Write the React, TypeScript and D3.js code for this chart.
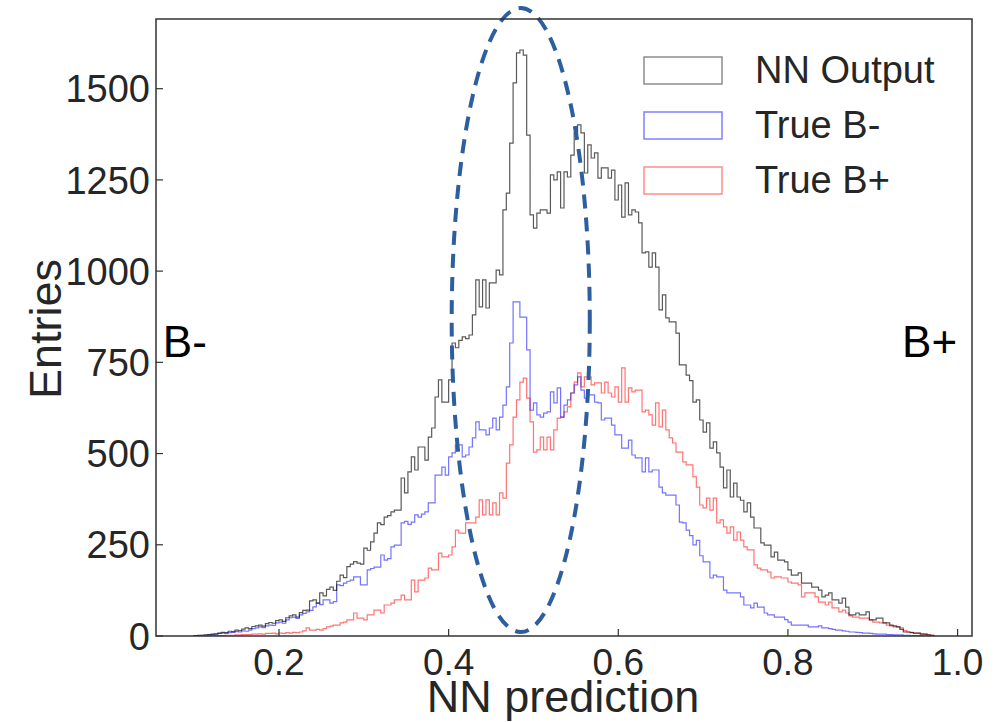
import React from "react";
import * as d3 from "d3";

// ---- data ----
const BIN_START = 0.1;
const BIN_WIDTH = 0.004;

const nnOutput = [
  1, 2, 2, 3, 4, 5, 6, 8, 10, 9,
  13, 12, 16, 15, 19, 22, 20, 26, 28, 30,
  27, 34, 37, 35, 42, 44, 40, 50, 55, 58,
  52, 64, 70, 71, 96, 99, 90, 118, 110, 128,
  134, 125, 150, 167, 160, 190, 197, 204, 200, 197,
  241, 235, 258, 282, 310, 305, 326, 330, 340, 345,
  345, 433, 392, 450, 491, 455, 518, 518, 482, 545,
  570, 655, 702, 641, 641, 702, 803, 790, 810, 820,
  815, 825, 880, 976, 902, 976, 899, 968, 968, 1003,
  990, 1168, 1214, 1351, 1516, 1598, 1606, 1592, 1373, 1154,
  1118, 1159, 1168, 1168, 1159, 1264, 1250, 1272, 1173, 1272,
  1258, 1318, 1379, 1401, 1379, 1269, 1346, 1310, 1324, 1255,
  1283, 1283, 1255, 1277, 1195, 1236, 1148, 1242, 1154, 1168,
  1162, 1132, 1050, 1053, 1011, 1050, 1011, 894, 935, 872,
  861, 861, 830, 743, 743, 715, 700, 641, 647, 592,
  559, 584, 515, 532, 502, 463, 406, 455, 381, 419,
  381, 372, 340, 365, 326, 296, 296, 255, 249, 249,
  217, 230, 208, 208, 203, 181, 167, 167, 173, 145,
  145, 145, 134, 134, 126, 107, 112, 118, 99, 99,
  90, 104, 79, 58, 58, 63, 58, 58, 66, 44,
  44, 49, 49, 36, 36, 30, 28, 25, 18, 11,
  11, 9, 8, 8, 5, 5, 3, 2,
];

const trueBminus = [
  1, 1, 2, 2, 3, 4, 5, 7, 8, 7,
  9, 10, 12, 11, 14, 13, 16, 20, 22, 25,
  23, 28, 30, 29, 36, 38, 35, 44, 50, 52,
  48, 58, 62, 66, 70, 80, 90, 86, 99, 99,
  90, 94, 140, 138, 145, 150, 153, 162, 162, 140,
  140, 181, 185, 189, 189, 222, 208, 212, 244, 249,
  249, 310, 314, 306, 312, 332, 326, 334, 340, 365,
  365, 441, 441, 463, 441, 491, 502, 524, 524, 491,
  496, 518, 543, 587, 565, 565, 551, 570, 597, 565,
  600, 633, 683, 803, 916, 916, 874, 874, 784, 619,
  639, 606, 600, 611, 614, 669, 639, 680, 600, 633,
  647, 666, 688, 710, 674, 652, 661, 661, 641, 639,
  592, 597, 597, 578, 551, 551, 515, 515, 537, 496,
  488, 488, 450, 488, 450, 455, 455, 408, 392, 386,
  386, 386, 359, 312, 310, 290, 275, 250, 262, 220,
  203, 203, 159, 167, 162, 162, 126, 118, 118, 118,
  118, 107, 85, 85, 77, 90, 79, 79, 63, 58,
  58, 52, 52, 52, 45, 38, 30, 30, 30, 30,
  30, 25, 25, 25, 28, 22, 22, 20, 18, 16,
  16, 14, 13, 11, 11, 10, 9, 8, 8, 7,
  6, 5, 5, 5, 4, 4, 3, 3, 3, 2,
  2, 1, 1, 1, 1, 0, 0, 0,
];

const trueBplus = [
  0, 0, 0, 0, 0, 0, 1, 1, 1, 2,
  2, 2, 3, 3, 4, 4, 4, 5, 5, 6,
  5, 7, 7, 8, 6, 8, 7, 9, 8, 10,
  9, 11, 14, 22, 16, 16, 18, 16, 20, 25,
  27, 30, 30, 36, 38, 44, 44, 63, 49, 49,
  44, 58, 58, 71, 71, 63, 85, 85, 90, 99,
  99, 112, 99, 99, 153, 121, 153, 153, 159, 186,
  181, 181, 227, 217, 217, 222, 244, 290, 282, 282,
  310, 310, 310, 326, 373, 332, 373, 332, 365, 332,
  392, 378, 474, 524, 600, 647, 696, 707, 652, 587,
  504, 510, 545, 510, 545, 510, 565, 597, 600, 614,
  628, 666, 696, 721, 683, 710, 710, 688, 694, 694,
  666, 696, 666, 655, 683, 641, 735, 641, 680, 669,
  674, 674, 614, 619, 606, 578, 639, 573, 619, 565,
  543, 529, 504, 504, 477, 469, 469, 436, 408, 359,
  351, 378, 345, 378, 310, 318, 299, 282, 299, 263,
  285, 263, 244, 236, 236, 195, 186, 181, 181, 175,
  159, 162, 162, 159, 159, 148, 145, 145, 140, 107,
  118, 118, 118, 107, 93, 93, 85, 93, 77, 77,
  66, 71, 63, 55, 52, 52, 49, 49, 49, 44,
  38, 38, 36, 36, 30, 28, 25, 25, 22, 15,
  11, 10, 8, 8, 6, 5, 3, 2,
];

const seriesNames = ["NN Output", "True B-", "True B+"];
const xTicks = [0.2, 0.4, 0.6, 0.8, 1.0];
const yTicks = [0, 250, 500, 750, 1000, 1250, 1500];
const xLabel = "NN prediction";
const yLabel = "Entries";
const leftNote = "B-";
const rightNote = "B+";

// annotation ellipse in data units
const ELLIPSE = { cx: 0.485, cy: 866, rx: 0.0814, ry: 855 };
const NOTE_Y = 765;
const NOTE_LEFT_X = 0.063;
const NOTE_RIGHT_X = 0.9346;

// ---- layout ----
const W = 994;
const H = 722;
const PLOT = { left: 156, right: 972, top: 19, bottom: 636 };
const COLORS = ["rgba(0,0,0,0.65)", "rgba(0,0,255,0.55)", "rgba(255,0,0,0.55)"];
const LEGEND_COLORS = ["rgba(0,0,0,0.45)", "rgba(0,0,255,0.5)", "rgba(255,0,0,0.45)"];
const FONT = "'Liberation Sans', Arial, Helvetica, sans-serif";
const TEXT = "#262626";
const AXIS = "#333333";

export default function App() {
  const x = d3.scaleLinear().domain([0.055, 1.017]).range([PLOT.left, PLOT.right]);
  const y = d3.scaleLinear().domain([0, 1691]).range([PLOT.bottom, PLOT.top]);

  const stepPath = (vals: number[]) => {
    const pts: [number, number][] = [];
    const n = vals.length;
    pts.push([BIN_START, 0]);
    for (let i = 0; i < n; i++) {
      const e0 = BIN_START + i * BIN_WIDTH;
      const e1 = BIN_START + (i + 1) * BIN_WIDTH;
      pts.push([e0, vals[i]]);
      pts.push([e1, vals[i]]);
    }
    pts.push([BIN_START + n * BIN_WIDTH, 0]);
    return d3
      .line<[number, number]>()
      .x((d) => x(d[0]))
      .y((d) => y(d[1]))(pts) as string;
  };

  const all = [nnOutput, trueBminus, trueBplus];

  const ecx = x(ELLIPSE.cx);
  const ecy = y(ELLIPSE.cy);
  const erx = x(ELLIPSE.cx + ELLIPSE.rx) - ecx;
  const ery = ecy - y(ELLIPSE.cy + ELLIPSE.ry);

  return (
    <svg
      width={W}
      height={H}
      style={{ position: "absolute", left: 0, top: 0, background: "#fff" }}
      fontFamily={FONT}
    >
      <rect x={0} y={0} width={W} height={H} fill="#fff" />
      <defs>
        <clipPath id="plotclip">
          <rect x={PLOT.left} y={PLOT.top} width={PLOT.right - PLOT.left} height={PLOT.bottom - PLOT.top} />
        </clipPath>
      </defs>

      {/* histograms */}
      <g clipPath="url(#plotclip)">
        {[2, 1, 0].map((i) => (
          <path key={i} d={stepPath(all[i])} fill="none" stroke={COLORS[i]} strokeWidth={1.2} />
        ))}
      </g>

      {/* ellipse annotation */}
      <ellipse
        cx={ecx}
        cy={ecy}
        rx={erx}
        ry={ery}
        fill="none"
        stroke="#2c5ea0"
        strokeWidth={4}
        strokeDasharray="14 9"
      />

      {/* spines */}
      <rect
        x={PLOT.left}
        y={PLOT.top}
        width={PLOT.right - PLOT.left}
        height={PLOT.bottom - PLOT.top}
        fill="none"
        stroke={AXIS}
        strokeWidth={1.5}
      />

      {/* x ticks */}
      {xTicks.map((t) => (
        <g key={"x" + t}>
          <line x1={x(t)} x2={x(t)} y1={PLOT.bottom} y2={PLOT.bottom - 7} stroke={AXIS} strokeWidth={1.2} />
          <text x={x(t)} y={675} textAnchor="middle" fontSize={37} fill={TEXT}>
            {d3.format(".1f")(t)}
          </text>
        </g>
      ))}

      {/* y ticks */}
      {yTicks.map((t) => (
        <g key={"y" + t}>
          <line x1={PLOT.left} x2={PLOT.left + 7} y1={y(t)} y2={y(t)} stroke={AXIS} strokeWidth={1.2} />
          <text x={150} y={y(t)} dy="0.36em" textAnchor="end" fontSize={38} fill={TEXT}>
            {t}
          </text>
        </g>
      ))}

      {/* axis labels */}
      <text x={563} y={712} textAnchor="middle" fontSize={45} fill={TEXT}>
        {xLabel}
      </text>
      <text
        transform={`translate(61, 329) rotate(-90)`}
        textAnchor="middle"
        fontSize={45}
        fill={TEXT}
      >
        {yLabel}
      </text>

      {/* side notes */}
      <text x={x(NOTE_LEFT_X)} y={y(NOTE_Y)} fontSize={44} fill="#000">
        {leftNote}
      </text>
      <text x={x(NOTE_RIGHT_X)} y={y(NOTE_Y)} fontSize={44} fill="#000">
        {rightNote}
      </text>

      {/* legend */}
      {seriesNames.map((name, i) => (
        <g key={name}>
          <rect
            x={644}
            y={57 + i * 55}
            width={78}
            height={27}
            fill="none"
            stroke={LEGEND_COLORS[i]}
            strokeWidth={1.5}
          />
          <text x={755} y={83 + i * 55} fontSize={38} fill={TEXT}>
            {name}
          </text>
        </g>
      ))}
    </svg>
  );
}
